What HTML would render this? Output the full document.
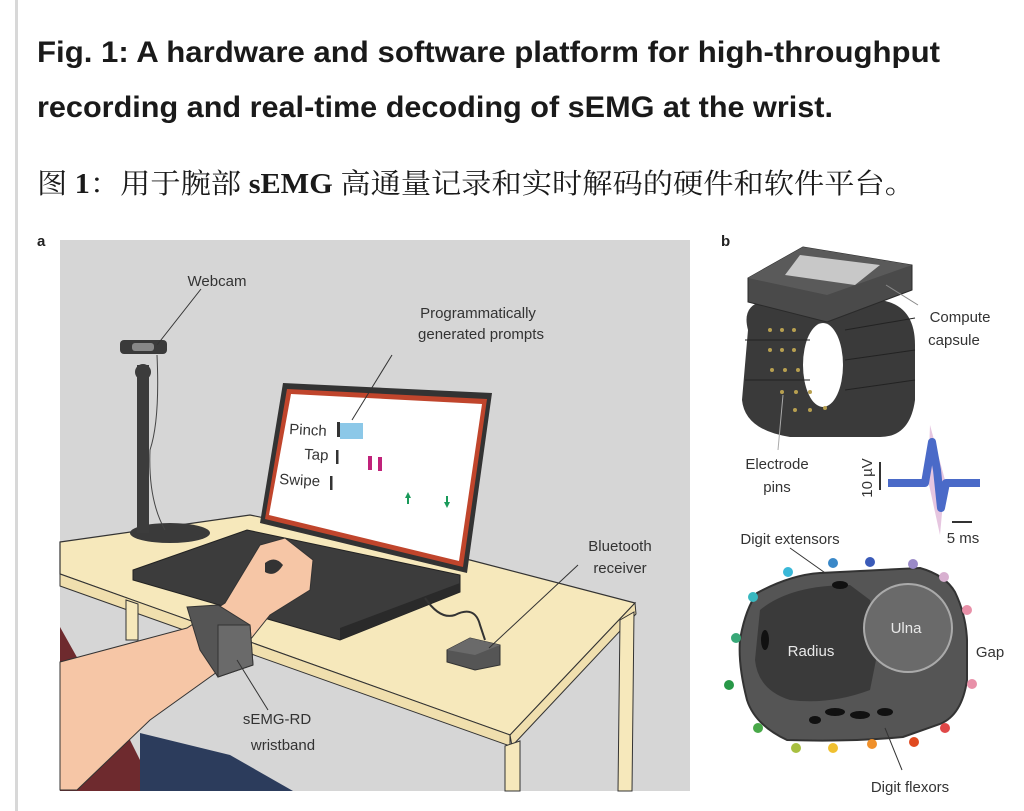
<!DOCTYPE html>
<html><head><meta charset="utf-8"><style>
html,body{margin:0;padding:0;background:#fff;width:1024px;height:811px;overflow:hidden}
svg{display:block}
.t{font-family:"Liberation Sans",sans-serif;fill:#333}
</style></head><body>
<svg width="1024" height="811" viewBox="0 0 1024 811" xmlns="http://www.w3.org/2000/svg">
<rect width="1024" height="811" fill="#fff"/>
<rect x="15" y="0" width="3" height="811" fill="#d8d8d8"/>
<!-- titles -->
<text x="37" y="62" font-family="Liberation Sans,sans-serif" font-weight="bold" font-size="30" fill="#1a1a1a" textLength="903" lengthAdjust="spacingAndGlyphs">Fig. 1: A hardware and software platform for high-throughput</text>
<text x="37" y="117" font-family="Liberation Sans,sans-serif" font-weight="bold" font-size="30" fill="#1a1a1a" textLength="796" lengthAdjust="spacingAndGlyphs">recording and real-time decoding of sEMG at the wrist.</text>
<text x="37" y="193" font-family="Liberation Serif,'Noto Serif CJK SC',serif" font-size="28" fill="#1a1a1a" textLength="878" lengthAdjust="spacingAndGlyphs">图 <tspan font-weight="bold">1</tspan>：用于腕部 <tspan font-weight="bold">sEMG</tspan> 高通量记录和实时解码的硬件和软件平台。</text>

<!-- panel a -->
<text x="37" y="246" font-family="Liberation Sans,sans-serif" font-weight="bold" font-size="15" fill="#222">a</text>
<rect x="60" y="240" width="630" height="551" fill="#d6d6d6"/>
<!-- table -->
<polygon points="60,542 250,515 470,560 635,603 510,735 60,574" fill="#f6e8bb" stroke="#333" stroke-width="1.2"/>
<polygon points="60,574 510,735 510,746 60,586" fill="#f0dfae" stroke="#333" stroke-width="1"/>
<polygon points="635,603 636,614 512,746 510,735" fill="#f0dfae" stroke="#333" stroke-width="1"/>
<polygon points="505,746 520,741 520,791 505,791" fill="#f6e8bb" stroke="#333" stroke-width="1"/>
<polygon points="620,620 634,612 632,791 618,791" fill="#f6e8bb" stroke="#333" stroke-width="1"/>
<polygon points="126,600 138,604 138,640 126,640" fill="#f6e8bb" stroke="#333" stroke-width="1"/>
<!-- webcam -->
<ellipse cx="170" cy="533" rx="40" ry="10" fill="#3a3a3a"/>
<rect x="137" y="365" width="12" height="168" fill="#3c3c3c"/>
<circle cx="143" cy="372" r="8" fill="#3c3c3c"/>
<rect x="120" y="340" width="47" height="14" rx="4" fill="#3a3a3a"/>
<rect x="132" y="343" width="22" height="8" rx="3" fill="#888"/>
<path d="M157,355 Q160,420 150,450 Q148,500 165,530" fill="none" stroke="#444" stroke-width="1"/>
<line x1="201" y1="289" x2="157" y2="345" stroke="#333" stroke-width="1"/>
<text class="t" x="217" y="286" font-size="15" text-anchor="middle">Webcam</text>
<!-- laptop -->
<polygon points="133,570 247,530 460,575 460,592 340,640 133,580" fill="#3c3c3c" stroke="#222" stroke-width="1"/>
<polygon points="340,628 460,583 460,592 340,640" fill="#2a2a2a"/>
<polygon points="283,383 492,393 467,573 260,523" fill="#333"/>
<polygon points="287,389 487,399 463,567 265,519" fill="#c0452c"/>
<polygon points="291,394 482,404 459,561 269,515" fill="#fff"/>
<text class="t" x="289" y="434" font-size="15" fill="#333" transform="rotate(3 289 434)">Pinch</text>
<rect x="337" y="422" width="3" height="15" fill="#333"/>
<rect x="340" y="423" width="23" height="16" fill="#8cc8e8"/>
<text class="t" x="304" y="459" font-size="15" transform="rotate(3 304 459)">Tap</text>
<rect x="336" y="450" width="2.5" height="14" fill="#333"/>
<rect x="368" y="456" width="4" height="14" fill="#c0227a"/>
<rect x="378" y="457" width="4" height="14" fill="#c0227a"/>
<text class="t" x="279" y="484" font-size="15" transform="rotate(3 279 484)">Swipe</text>
<rect x="330" y="476" width="2.5" height="14" fill="#333"/>
<path d="M408,492 l-3,6 h2 v6 h2 v-6 h2 z" fill="#1a9a5a"/>
<path d="M447,508 l-3,-6 h2 v-6 h2 v6 h2 z" fill="#1a9a5a"/>
<line x1="392" y1="355" x2="352" y2="420" stroke="#333" stroke-width="1"/>
<text class="t" x="478" y="318" font-size="15" text-anchor="middle">Programmatically</text>
<text class="t" x="481" y="339" font-size="15" text-anchor="middle">generated prompts</text>
<!-- cable and receiver -->
<path d="M425,598 Q440,620 455,615 Q475,605 480,625 L485,640" fill="none" stroke="#333" stroke-width="2"/>
<polygon points="447,650 470,638 500,645 500,665 475,670 447,662" fill="#555" stroke="#333" stroke-width="1"/>
<polygon points="447,650 470,638 500,645 475,655" fill="#6a6a6a"/>
<line x1="489" y1="648" x2="578" y2="565" stroke="#333" stroke-width="1"/>
<text class="t" x="620" y="551" font-size="15" text-anchor="middle">Bluetooth</text>
<text class="t" x="620" y="573" font-size="15" text-anchor="middle">receiver</text>
<!-- person -->
<polygon points="60,627 97,693 130,740 140,760 140,791 60,791" fill="#6e2a2e"/>
<polygon points="140,733 230,755 293,791 140,791" fill="#2c3c5c"/>
<path d="M60,662 L187,628 L225,603 L260,545 L285,538 L313,560 L310,590 L270,615 L250,640 L217,672 L150,720 L77,790 L60,790 Z" fill="#f6c6a6" stroke="#333" stroke-width="1"/>
<path d="M265,563 Q275,555 283,565 Q275,578 265,572 Z" fill="#333"/>
<polygon points="187,607 218,605 250,625 253,665 218,677 200,650" fill="#555" stroke="#333" stroke-width="1"/>
<polygon points="218,625 250,625 253,665 218,677" fill="#6a6a6a" stroke="#333" stroke-width="1"/>
<line x1="237" y1="660" x2="268" y2="710" stroke="#333" stroke-width="1"/>
<text class="t" x="277" y="724" font-size="15" text-anchor="middle">sEMG-RD</text>
<text class="t" x="283" y="750" font-size="15" text-anchor="middle">wristband</text>

<!-- panel b -->
<text x="721" y="246" font-family="Liberation Sans,sans-serif" font-weight="bold" font-size="15" fill="#222">b</text>
<!-- band ring -->
<path d="M748,330 Q740,300 775,300 L880,300 Q915,305 915,345 L915,400 Q910,437 880,437 L790,437 Q745,430 742,400 Z" fill="#3a3a3a"/>
<ellipse cx="823" cy="365" rx="20" ry="42" fill="#fff"/>
<g fill="#b8a050">
<circle cx="770" cy="330" r="2"/><circle cx="782" cy="330" r="2"/><circle cx="794" cy="330" r="2"/>
<circle cx="770" cy="350" r="2"/><circle cx="782" cy="350" r="2"/><circle cx="794" cy="350" r="2"/>
<circle cx="772" cy="370" r="2"/><circle cx="785" cy="370" r="2"/><circle cx="798" cy="370" r="2"/>
<circle cx="782" cy="392" r="2"/><circle cx="796" cy="392" r="2"/><circle cx="810" cy="392" r="2"/>
<circle cx="795" cy="410" r="2"/><circle cx="810" cy="410" r="2"/><circle cx="825" cy="408" r="2"/>
</g>
<g stroke="#222" stroke-width="1"><line x1="845" y1="330" x2="915" y2="318"/><line x1="845" y1="360" x2="915" y2="350"/><line x1="845" y1="390" x2="915" y2="380"/><line x1="745" y1="340" x2="810" y2="340"/><line x1="745" y1="380" x2="810" y2="380"/></g>
<polygon points="748,278 803,247 912,265 912,290 827,322 748,302" fill="#4a4a4a" stroke="#2a2a2a" stroke-width="1"/>
<polygon points="748,278 803,247 912,265 827,295" fill="#5a5a5a"/>
<polygon points="800,255 880,265 855,285 785,275" fill="#c8c8c8"/>
<line x1="886" y1="285" x2="918" y2="305" stroke="#888" stroke-width="1"/>
<text class="t" x="960" y="322" font-size="15" text-anchor="middle">Compute</text>
<text class="t" x="954" y="345" font-size="15" text-anchor="middle">capsule</text>
<line x1="783" y1="395" x2="778" y2="450" stroke="#aaa" stroke-width="1"/>
<text class="t" x="777" y="469" font-size="15" text-anchor="middle">Electrode</text>
<text class="t" x="777" y="492" font-size="15" text-anchor="middle">pins</text>
<text class="t" x="0" y="0" font-size="15" text-anchor="middle" transform="translate(872,478) rotate(-90)">10 µV</text>
<rect x="879" y="462" width="2" height="28" fill="#333"/>
<path d="M930,425 L945,480 L940,535 L928,480 Z" fill="#e0b8d8" opacity="0.8"/>
<path d="M888,483 L925,483 L932,442 L937,470 L941,508 L946,483 L980,483" fill="none" stroke="#4a6ac8" stroke-width="8" stroke-linejoin="round"/>
<rect x="952" y="521" width="20" height="2" fill="#333"/>
<text class="t" x="963" y="543" font-size="15" text-anchor="middle">5 ms</text>
<text class="t" x="790" y="544" font-size="15" text-anchor="middle">Digit extensors</text>
<line x1="790" y1="548" x2="838" y2="582" stroke="#333" stroke-width="1"/>
<!-- cross-section -->
<path d="M757,593 Q790,575 820,573 L920,568 Q945,575 955,592 Q966,615 967,640 L967,680 Q962,715 940,724 L903,737 Q850,742 787,740 Q755,725 747,700 Q738,665 740,640 Q745,610 757,593 Z" fill="#555" stroke="#333" stroke-width="2"/>
<path d="M760,610 Q790,585 850,585 L870,600 L880,640 L870,690 Q830,705 790,700 Q758,690 755,660 Z" fill="#3a3a3a"/>
<circle cx="908" cy="628" r="44" fill="#6a6a6a" stroke="#aaa" stroke-width="2"/>
<g fill="#111"><ellipse cx="835" cy="712" rx="10" ry="4"/><ellipse cx="860" cy="715" rx="10" ry="4"/><ellipse cx="885" cy="712" rx="8" ry="4"/><ellipse cx="815" cy="720" rx="6" ry="4"/><ellipse cx="840" cy="585" rx="8" ry="4"/><ellipse cx="765" cy="640" rx="4" ry="10"/></g>
<text x="811" y="656" font-family="Liberation Sans,sans-serif" font-size="15" fill="#e8e8e8" text-anchor="middle">Radius</text>
<text x="906" y="633" font-family="Liberation Sans,sans-serif" font-size="15" fill="#e8e8e8" text-anchor="middle">Ulna</text>
<text class="t" x="990" y="657" font-size="15" text-anchor="middle">Gap</text>
<line x1="885" y1="728" x2="902" y2="770" stroke="#333" stroke-width="1"/>
<text class="t" x="910" y="792" font-size="15" text-anchor="middle">Digit flexors</text>
<g>
<circle cx="788" cy="572" r="5" fill="#3ab8d8"/>
<circle cx="833" cy="563" r="5" fill="#3a88c8"/>
<circle cx="870" cy="562" r="5" fill="#3a5ab8"/>
<circle cx="913" cy="564" r="5" fill="#9a8ac8"/>
<circle cx="944" cy="577" r="5" fill="#d8b0d0"/>
<circle cx="967" cy="610" r="5" fill="#e890a8"/>
<circle cx="972" cy="684" r="5" fill="#e890a8"/>
<circle cx="945" cy="728" r="5" fill="#e04848"/>
<circle cx="914" cy="742" r="5" fill="#e04a20"/>
<circle cx="872" cy="744" r="5" fill="#f0902a"/>
<circle cx="833" cy="748" r="5" fill="#f0c030"/>
<circle cx="796" cy="748" r="5" fill="#a8c040"/>
<circle cx="758" cy="728" r="5" fill="#48a848"/>
<circle cx="729" cy="685" r="5" fill="#289848"/>
<circle cx="736" cy="638" r="5" fill="#38a878"/>
<circle cx="753" cy="597" r="5" fill="#38b8c0"/>
</g>
</svg>
</body></html>
